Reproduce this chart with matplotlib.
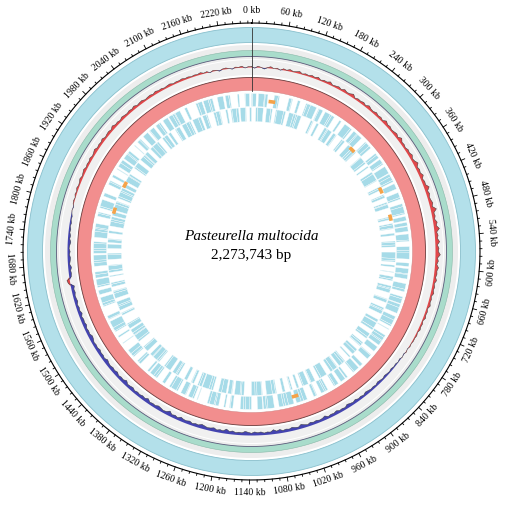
import numpy as np
import matplotlib.pyplot as plt
from matplotlib.patches import Wedge

# ---- data ----
genome_kb = 2273.743
tick_kb = list(range(0, 2221, 60))

# gene runs (kb) in genome order and the row of each run
# (0 = forward/outer, 1 = reverse/inner, 2 = genes on both strands)
run_len_kb = [3, 8, 5, 14, 2, 6, 11, 4, 9, 3, 17, 5, 7, 2, 12, 6, 4, 10, 3, 8,
              15, 5, 2, 9, 6, 13, 4, 7, 3, 11, 5, 8, 2, 16, 4, 6, 9, 3, 12, 5,
              7, 3, 10, 6, 2, 14, 5, 8, 4, 11, 3, 6, 18, 2, 7, 9, 4, 5, 13, 3,
              6, 12, 4, 2, 9, 7, 15, 3, 5, 10, 4, 8, 2, 11, 6, 14, 3, 7, 5, 9,
              4, 16, 6, 3, 8, 5, 12, 2, 10, 7, 4, 13, 6, 3, 9, 5, 11, 2, 8, 14,
              5, 3, 9, 12, 4, 7, 2, 15, 6, 8, 3, 10, 5, 13, 4, 6, 2, 11, 7, 9,
              8, 4, 14, 3, 6, 10, 5, 2, 12, 7, 9, 3, 16, 5, 4, 8, 11, 2, 6, 13,
              3, 9, 6, 11, 4, 2, 13, 7, 5, 10, 3, 8, 15, 4, 6, 2, 12, 5, 9, 4,
              10, 5, 7, 3, 14, 6, 2, 9, 4, 12, 8, 3, 11, 5, 6, 17, 2, 7, 4, 10,
              6, 2, 11, 8, 4, 13, 5, 3, 9, 7, 15, 4, 6, 10, 3, 5, 12, 2, 8, 6,
              4, 12, 3, 7, 10, 5, 14, 2, 6, 9, 4, 11, 3, 8, 16, 5, 2, 7, 10, 4,
              9, 3, 6, 13, 5, 2, 10, 7, 4, 15, 3, 8, 6, 11, 2, 9, 5, 12, 4, 7,
              5, 11, 4, 8, 2, 14, 6, 3, 9, 12, 5, 7, 3, 10, 4, 16, 6, 2, 8, 5,
              12, 4, 7, 3, 9, 6, 15, 2, 5, 10, 8, 4, 13, 3, 6, 11, 5, 2, 9, 7,
              3, 8, 14, 5, 2, 11, 6, 9, 4, 7, 13, 3, 10, 5, 2, 12, 8, 4, 6, 15,
              7, 5, 10, 3, 12, 4, 6, 9, 2, 14, 5, 8, 3, 11, 6, 4, 13, 2, 9, 5]
run_row = [0, 0, 1, 2, 0, 0, 1, 1, 0, 2, 1, 1, 0, 0, 1, 2, 1, 1, 0, 0,
           0, 1, 2, 0, 1, 0, 0, 2, 1, 1, 0, 1, 1, 0, 2, 1, 0, 0, 2, 1,
           1, 2, 0, 0, 1, 1, 2, 0, 1, 0, 0, 1, 2, 1, 0, 0, 2, 1, 0, 1,
           1, 0, 2, 1, 1, 0, 0, 2, 1, 0, 1, 2, 1, 0, 1, 0, 2, 1, 1, 0,
           0, 2, 1, 1, 0, 1, 0, 2, 0, 1, 1, 0, 2, 1, 1, 0, 0, 1, 2, 0,
           1, 1, 2, 0, 0, 1, 0, 1, 2, 0, 0, 2, 1, 0, 1, 1, 2, 0, 1, 1,
           0, 1, 0, 2, 1, 1, 0, 1, 2, 1, 0, 0, 1, 2, 0, 0, 1, 2, 0, 1,
           1, 0, 2, 0, 1, 1, 0, 2, 0, 0, 1, 1, 2, 0, 0, 1, 2, 1, 1, 0,
           0, 0, 2, 1, 1, 0, 2, 1, 0, 1, 2, 0, 0, 2, 1, 1, 0, 1, 2, 0,
           1, 2, 0, 1, 0, 0, 2, 1, 1, 0, 1, 2, 0, 0, 1, 2, 1, 1, 1, 0,
           0, 1, 2, 0, 0, 1, 1, 2, 1, 1, 0, 1, 2, 0, 0, 1, 2, 0, 1, 1,
           1, 0, 0, 2, 1, 1, 0, 1, 2, 0, 1, 0, 2, 1, 1, 0, 0, 2, 1, 0,
           0, 2, 0, 1, 1, 0, 2, 0, 0, 1, 1, 2, 0, 1, 0, 2, 1, 1, 0, 1,
           1, 1, 2, 0, 1, 0, 1, 2, 1, 0, 0, 1, 2, 0, 0, 1, 1, 2, 1, 0,
           0, 1, 2, 1, 0, 0, 1, 2, 0, 1, 0, 1, 2, 0, 0, 2, 1, 1, 0, 1,
           1, 0, 2, 1, 0, 0, 2, 1, 1, 0, 1, 0, 2, 1, 1, 0, 1, 2, 0, 1]

# rRNA / tRNA features (kb) and row (0 = outer, 1 = inner)
rna_kb = [49, 282, 409, 482, 1031, 1810, 1881]
rna_row = [0, 1, 1, 1, 0, 1, 1]

# GC skew, one value per 1/360 of the genome
gc_skew = [0.4, -0.3, 0.6, 0.2, -0.5, 0.3, 0.8, 0.1, 0.5, -0.2, 0.7, 0.3, 0.9, 0.4, 0.6, 1.1, 0.3, 0.8, 0.5, 1.0,
           0.6, 1.2, 0.4, 0.9, 0.7, 1.4, 0.5, 0.8, 1.1, 0.6, 1.3, 0.7, 0.9, 1.6, 0.5, 1.0, 0.8, 1.2, 0.6, 1.5,
           0.9, 0.7, 1.3, 0.8, 1.1, 0.6, 1.7, 0.9, 1.2, 0.7, 1.0, 1.4, 0.8, 1.9, 0.9, 1.1, 0.7, 1.3, 1.0, 1.6,
           0.8, 1.2, 2.1, 0.9, 1.4, 1.0, 1.8, 0.8, 1.3, 1.1, 2.3, 1.0, 1.5, 0.9, 1.2, 1.7, 1.0, 2.6, 1.1, 1.4,
           0.9, 1.8, 1.2, 2.4, 1.0, 1.5, 1.1, 2.0, 0.9, 1.6, 1.3, 2.2, 1.0, 1.4, 0.8, 1.7, 1.1, 1.3, 0.9, 1.5,
           0.7, 1.2, 0.9, 1.4, 0.6, 1.0, 0.8, 1.3, 0.5, 0.9, 0.7, 1.1, 0.4, 0.8, 0.6, 0.9, 0.3, 0.7, 0.4, 0.5,
           0.2, 0.4, -0.1, 0.3, -0.3, 0.1, -0.5, -0.2, -0.6, -0.4, -0.8, -0.5, -0.7, -1.0, -0.6, -0.9, -1.2, -0.7, -1.0, -0.8,
           -1.1, -1.4, -0.8, -1.2, -0.9, -1.5, -1.0, -1.3, -1.7, -0.9, -1.2, -1.0, -1.6, -1.1, -1.3, -0.9, -1.8, -1.2, -1.0, -1.4,
           -1.1, -1.5, -0.9, -1.3, -1.9, -1.0, -1.2, -1.6, -1.1, -1.4, -1.0, -1.7, -1.2, -2.0, -1.1, -1.3, -0.9, -1.5, -1.2, -1.6,
           -1.0, -1.4, -1.8, -1.1, -1.3, -1.0, -1.6, -1.2, -2.1, -1.1, -1.4, -1.0, -1.7, -1.3, -1.1, -1.5, -1.9, -1.2, -1.4, -1.0,
           -1.6, -1.2, -1.3, -1.8, -1.0, -1.5, -1.1, -2.2, -1.3, -1.0, -1.4, -1.7, -1.1, -1.3, -1.0, -1.9, -1.2, -1.5, -1.1, -1.4,
           -1.0, -1.6, -1.3, -1.1, -2.0, -1.2, -1.4, -1.0, -1.7, -1.2, -1.5, -1.1, -1.3, -1.8, -1.0, -1.4, -1.2, -1.6, -1.1, -1.3,
           -1.0, -1.5, -1.8, -1.1, -1.3, -1.0, -1.6, -1.2, -1.4, -1.0, -1.7, -1.1, -1.3, -0.9, -1.5, -1.2, -1.0, -1.4, -1.1, -1.6,
           0.8, 1.3, -0.9, -1.2, -1.0, -1.5, -0.8, -1.1, -1.3, -0.9, -1.2, -0.7, -1.0, -1.4, -0.8, -1.1, -0.6, -0.9, -0.5, -0.8,
           -0.4, -0.6, -0.2, 0.1, -0.3, 0.3, 0.5, 0.2, 0.7, 0.4, 0.9, 0.5, 0.7, 1.1, 0.6, 0.9, 1.3, 0.7, 1.0, 0.8,
           1.2, 0.7, 1.0, 1.5, 0.8, 1.1, 0.9, 1.4, 0.7, 1.0, 1.2, 0.8, 1.6, 0.9, 1.1, 0.7, 1.3, 1.0, 0.8, 1.2,
           0.9, 1.4, 0.7, 1.0, 1.2, 0.6, 0.9, 1.1, 0.7, 1.3, 0.8, 1.0, 0.6, 0.9, 1.1, 0.5, 0.8, 0.7, 1.0, 0.6,
           0.8, 0.4, 0.7, 0.5, 0.9, 0.3, 0.6, -0.2, 0.5, 0.3, -0.4, 0.4, 0.6, 0.2, -0.3, 0.5, 0.3, 0.7, -0.2, 0.4]

title = "Pasteurella multocida"
subtitle = "2,273,743 bp"

# ---- drawing ----
fig = plt.figure(figsize=(5.05, 5.05), dpi=100)
ax = fig.add_axes([0, 0, 1, 1])
ax.set_xlim(0, 505)
ax.set_ylim(0, 505)
ax.set_aspect('equal')
ax.axis('off')

cx, cy = 251.5, 253.5


def ang(p):
    return 90 - p / genome_kb * 360


def xy(p, r):
    t = np.radians(ang(np.asarray(p)))
    return cx + r * np.cos(t), cy + r * np.sin(t)


def ring(r_in, r_out, p1=0, p2=genome_kb, **kw):
    ax.add_patch(Wedge((cx, cy), r_out, ang(p2), ang(p1), width=r_out - r_in, **kw))


# backgrounds
ring(192.5, 206.5, color='#ededed', lw=0)
ring(176.5, 191.5, color='#f0f0f0', lw=0)

# outer blue ring
ring(209, 224, facecolor='#b3e0ea', edgecolor='#88bfcc', lw=0.6)

# green track
ring(195, 201, facecolor='#a9dccb', edgecolor='none')
t = np.linspace(0, genome_kb, 400)
ax.plot(*xy(t, 195), color='#5a5a7a', lw=0.6)
ax.plot(*xy(t, 201), color='#88b8a8', lw=0.4)

# GC skew track
n = len(gc_skew)
pos = np.append(np.arange(n) * genome_kb / n, genome_kb)
vals = np.append(gc_skew, gc_skew[0])
base = 184
k = 2.2
bx, by = xy(pos, base)
for sign, col in [(1, '#e0474a'), (-1, '#4444b0')]:
    v = np.clip(vals * sign, 0, None) * sign
    px, py = xy(pos, base + v * k)
    ax.fill(np.r_[px, bx[::-1]], np.r_[py, by[::-1]], color=col, lw=0)
ax.plot(*xy(pos, base + vals * k), color='#3a3a3a', lw=0.35)

# red ring
ring(161, 174, facecolor='#f28e8e', edgecolor='none')
ax.plot(*xy(t, 174), color='#6a3a3a', lw=0.6)
ax.plot(*xy(t, 161), color='#c98080', lw=0.3)

# zero line through the tracks
zx, zy = xy([0, 0], np.array([161, 224]))
ax.plot(zx, zy, color='#333333', lw=0.6)

# genes
rows = {0: [(145, 158)], 1: [(130, 144)], 2: [(145, 158), (130, 144)]}
start = 0
for L, row in zip(run_len_kb, run_row):
    end = min(start + L, genome_kb)
    for r_in, r_out in rows[row]:
        ring(r_in, r_out, start, end, facecolor='#a6dbe8', edgecolor='white', lw=0.25)
    start = end

for p, row in zip(rna_kb, rna_row):
    rc = 151 if row == 0 else 143
    ring(rc - 1.8, rc + 1.8, p - 8, p + 8, color='#f5a349', lw=0)

# ruler
R = 228.5
ax.plot(*xy(t, R), color='black', lw=0.8)
for p in np.arange(0, genome_kb, 12):
    L = 4 if p % 60 == 0 else 2
    ax.plot(*xy([p, p], np.array([R, R + L])), color='black', lw=0.6)

for p in tick_kb:
    a = p / genome_kb * 360
    rot = -a
    if 90 < a < 270:
        rot += 180
    x, y = xy(p, 241)
    ax.text(x, y, f"{p} kb", rotation=rot, rotation_mode='anchor', ha='center',
            va='center', fontsize=7, family='Liberation Serif')

ax.text(cx, 268, title, ha='center', va='center', fontsize=11, style='italic',
        family='Liberation Serif')
ax.text(cx, 249, subtitle, ha='center', va='center', fontsize=11, family='Liberation Serif')

fig.savefig('out.png', dpi=100)
